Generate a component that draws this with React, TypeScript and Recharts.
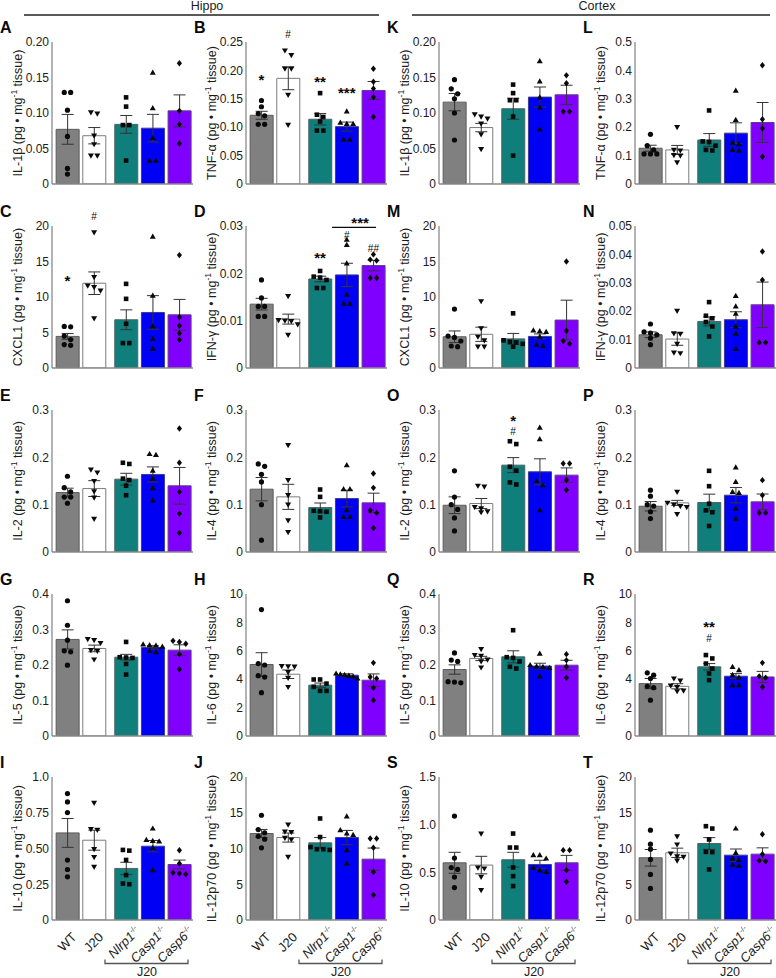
import React from "react";
import {
  ComposedChart,
  Bar,
  Cell,
  ErrorBar,
  Scatter,
  XAxis,
  YAxis,
  ReferenceDot,
  ReferenceLine,
} from "recharts";

const FONT = "'Liberation Sans', Arial, Helvetica, sans-serif";
const INK = "#0a0a0a";
const TEXT = "#1c1c1c";
const AXIS = "#8a8a8a";

const GROUPS = ["WT", "J20", "Nlrp1", "Casp1", "Casp6"];
const KNOCKOUT = [false, false, true, true, true];
const FILLS = ["#808080", "#ffffff", "#107e7a", "#0000f4", "#7f00ff"];
const EDGES = ["#5c5c5c", "#7c7c7c", "#4f6463", "#3c3c8c", "#5e3c88"];

// grid layout of the figure
const COL_X = [0, 194, 387, 583];
const ROW_TOP = [42, 226, 410, 594, 777];
const PLOT_H = [142, 142, 142, 142, 143];
const AXIS_W = 52;
const CHART_W = 195;
const POS = [0, 1, 2.2, 3.2, 4.2];
const X_DOMAIN = [-0.58, 4.71];
const ROW_PX = 5;
const DX = 0.24;

// ---- Hippo ----
const A_ticks = ["0", "0.05", "0.10", "0.15", "0.20"];
const A_mean = [0.077, 0.068, 0.084, 0.0786, 0.103];
const A_sem = [0.021, 0.0115, 0.0125, 0.0195, 0.0225];
const A_pts = [
  [0.129, 0.129, 0.104, 0.067, 0.022, 0.014],
  [0.099, 0.101, 0.068, 0.056, 0.04, 0.04],
  [0.122, 0.109, 0.083, 0.083, 0.033],
  [0.157, 0.107, 0.065, 0.033, 0.033],
  [0.17, 0.103, 0.084, 0.057],
];

const B_ticks = ["0", "0.05", "0.10", "0.15", "0.20", "0.25"];
const B_mean = [0.121, 0.186, 0.114, 0.101, 0.1647];
const B_sem = [0.007, 0.02, 0.01, 0.008, 0.0158];
const B_pts = [
  [0.147, 0.136, 0.124, 0.12, 0.105, 0.105],
  [0.235, 0.227, 0.203, 0.203, 0.157, 0.104],
  [0.16, 0.122, 0.118, 0.11, 0.094, 0.094],
  [0.128, 0.108, 0.106, 0.106, 0.078, 0.078],
  [0.203, 0.18, 0.168, 0.153, 0.118],
];
const B_marks: [number, number, string][] = [
  [0, 0.189, "*"],
  [1, 0.264, "#"],
  [2, 0.185, "**"],
  [3, 0.167, "***"],
];

const C_ticks = ["0", "5", "10", "15", "20"];
const C_mean = [4.45, 11.94, 6.79, 7.82, 7.49];
const C_sem = [0.4, 1.59, 1.4, 2.37, 2.17];
const C_pts = [
  [5.85, 5.8, 4.5, 4.0, 3.3, 3.2],
  [19.1, 12.8, 11.6, 11.4, 10.9, 7.0],
  [11.85, 9.74, 6.23, 3.51, 3.51],
  [18.5, 10.2, 5.9, 4.1, 2.7],
  [15.9, 7.17, 5.95, 4.9, 3.98],
];
const C_marks: [number, number, string][] = [
  [0, 12.7, "*"],
  [1, 21.3, "#"],
];

const D_ticks = ["0", "0.01", "0.02", "0.03"];
const D_mean = [0.01349, 0.01033, 0.0188, 0.01967, 0.02164];
const D_sem = [0.00123, 0.00105, 0.0006, 0.00246, 0.0011];
const D_pts = [
  [0.0186, 0.0148, 0.013, 0.013, 0.0109, 0.0109],
  [0.0152, 0.0101, 0.01, 0.0099, 0.0092, 0.007],
  [0.0205, 0.0193, 0.0191, 0.0186, 0.0169, 0.0169],
  [0.0271, 0.026, 0.0221, 0.0155, 0.0136, 0.0136],
  [0.024, 0.0229, 0.0227, 0.019, 0.019],
];
const D_marks: [number, number, string][] = [
  [2, 0.0239, "**"],
  [3, 0.0281, "#"],
  [4, 0.0253, "##"],
];
const D_lineGroups = [3, 4];
const D_lineValue = 0.0297;
const D_lineText = "***";
const D_lineTextValue = 0.0313;

const E_ticks = ["0", "0.1", "0.2", "0.3"];
const E_mean = [0.1256, 0.134, 0.1539, 0.1638, 0.1398];
const E_sem = [0.0092, 0.0167, 0.0124, 0.016, 0.0388];
const E_pts = [
  [0.16, 0.136, 0.127, 0.116, 0.116, 0.103],
  [0.174, 0.168, 0.15, 0.128, 0.115, 0.07],
  [0.1885, 0.186, 0.155, 0.152, 0.14, 0.12],
  [0.207, 0.205, 0.172, 0.155, 0.135, 0.109],
  [0.261, 0.1885, 0.127, 0.081, 0.04],
];

const F_ticks = ["0", "0.1", "0.2", "0.3"];
const F_mean = [0.1327, 0.1165, 0.0939, 0.1129, 0.1038];
const F_sem = [0.0247, 0.0265, 0.0096, 0.0177, 0.0205];
const F_pts = [
  [0.186, 0.181, 0.164, 0.148, 0.1, 0.025],
  [0.226, 0.152, 0.12, 0.1, 0.067, 0.042],
  [0.132, 0.1165, 0.087, 0.086, 0.085, 0.073],
  [0.1835, 0.1327, 0.1327, 0.0882, 0.074, 0.074],
  [0.166, 0.1355, 0.0882, 0.0826, 0.0508],
];

const G_ticks = ["0", "0.1", "0.2", "0.3", "0.4"];
const G_mean = [0.272, 0.2466, 0.222, 0.2494, 0.2419];
const G_sem = [0.0269, 0.0094, 0.008, 0.005, 0.015];
const G_pts = [
  [0.381, 0.312, 0.27, 0.24, 0.237, 0.1995],
  [0.273, 0.27, 0.262, 0.242, 0.24, 0.2155],
  [0.265, 0.222, 0.221, 0.22, 0.203, 0.173],
  [0.258, 0.256, 0.255, 0.252, 0.24, 0.236],
  [0.268, 0.265, 0.26, 0.23, 0.188],
];

const H_ticks = ["0", "2", "4", "6", "8", "10"];
const H_mean = [5.035, 4.35, 3.58, 4.28, 3.93];
const H_sem = [0.83, 0.3, 0.15, 0.1, 0.44];
const H_pts = [
  [8.9, 5.1, 5.0, 4.25, 4.15, 3.05],
  [4.92, 4.9, 4.88, 4.5, 4.1, 3.45],
  [3.98, 3.98, 3.69, 3.46, 3.18, 3.18],
  [4.4, 4.35, 4.3, 4.25, 4.2, 4.05],
  [5.15, 4.15, 4.05, 3.4, 2.52],
];

const I_ticks = ["0", "0.25", "0.50", "0.75", "1.0"];
const I_mean = [0.609, 0.558, 0.3605, 0.516, 0.388];
const I_sem = [0.101, 0.07, 0.043, 0.04, 0.031];
const I_pts = [
  [0.884, 0.826, 0.751, 0.419, 0.353, 0.302],
  [0.819, 0.635, 0.63, 0.495, 0.44, 0.372],
  [0.49, 0.485, 0.42, 0.314, 0.255, 0.25],
  [0.64, 0.56, 0.553, 0.55, 0.505, 0.349],
  [0.488, 0.395, 0.33, 0.325, 0.32],
];

const J_ticks = ["0", "5", "10", "15", "20"];
const J_mean = [12.09, 11.53, 10.79, 11.53, 8.51];
const J_sem = [0.56, 0.63, 0.75, 1.0, 1.55];
const J_pts = [
  [14.65, 12.65, 12.2, 11.7, 11.3, 10.1],
  [13.35, 12.35, 12.3, 11.5, 11.26, 8.84],
  [14.2, 11.6, 10.2, 9.9, 9.9, 9.8],
  [14.5, 12.56, 12.1, 11.9, 9.77, 7.9],
  [11.4, 11.4, 10.1, 6.7, 3.5],
];

// ---- Cortex ----
const K_ticks = ["0", "0.05", "0.10", "0.15", "0.20"];
const K_mean = [0.1153, 0.0795, 0.106, 0.1224, 0.1256];
const K_sem = [0.0122, 0.0059, 0.0148, 0.0142, 0.0135];
const K_pts = [
  [0.147, 0.134, 0.127, 0.12, 0.1, 0.062],
  [0.098, 0.095, 0.092, 0.085, 0.07, 0.049],
  [0.14, 0.128, 0.118, 0.118, 0.095, 0.04],
  [0.173, 0.1445, 0.122, 0.108, 0.077],
  [0.153, 0.142, 0.102, 0.102],
];

const L_ticks = ["0", "0.1", "0.2", "0.3", "0.4", "0.5"];
const L_mean = [0.126, 0.12, 0.155, 0.179, 0.2165];
const L_sem = [0.0105, 0.0158, 0.0225, 0.0365, 0.0705];
const L_pts = [
  [0.175, 0.135, 0.12, 0.106, 0.106, 0.106],
  [0.2, 0.12, 0.118, 0.102, 0.1, 0.076],
  [0.259, 0.15, 0.148, 0.135, 0.12, 0.118],
  [0.329, 0.226, 0.145, 0.14, 0.12, 0.118],
  [0.418, 0.228, 0.196, 0.096],
];

const M_ticks = ["0", "5", "10", "15", "20"];
const M_mean = [4.4, 4.75, 4.1, 4.45, 6.75];
const M_sem = [0.82, 1.0, 0.77, 0.35, 2.8];
const M_pts = [
  [8.3, 4.5, 4.3, 3.8, 3.1, 3.0],
  [9.4, 5.6, 4.4, 3.9, 3.0, 3.0],
  [7.7, 3.9, 3.7, 3.6, 3.4, 3.0],
  [5.3, 5.2, 5.1, 4.4, 3.3, 3.1],
  [15.0, 5.25, 3.8, 3.4],
];

const N_ticks = ["0", "0.01", "0.02", "0.03", "0.04", "0.05"];
const N_mean = [0.0117, 0.0102, 0.0164, 0.017, 0.02225];
const N_sem = [0.001, 0.0022, 0.0016, 0.0028, 0.008];
const N_pts = [
  [0.0155, 0.0127, 0.0123, 0.0117, 0.0105, 0.0082],
  [0.0201, 0.0122, 0.012, 0.0085, 0.0054, 0.0052],
  [0.0232, 0.0184, 0.0175, 0.0162, 0.0146, 0.0111],
  [0.0254, 0.0217, 0.0191, 0.0146, 0.0121, 0.0067],
  [0.041, 0.031, 0.009, 0.009],
];

const O_ticks = ["0", "0.1", "0.2", "0.3"];
const O_mean = [0.0988, 0.1024, 0.1835, 0.1694, 0.1624];
const O_sem = [0.0177, 0.0106, 0.0159, 0.0275, 0.0152];
const O_pts = [
  [0.1715, 0.116, 0.1, 0.09, 0.072, 0.0445],
  [0.14, 0.138, 0.095, 0.092, 0.086, 0.084],
  [0.234, 0.228, 0.18, 0.172, 0.147, 0.1426],
  [0.2626, 0.2386, 0.15, 0.141, 0.0882],
  [0.187, 0.187, 0.152, 0.131],
];
const O_marks: [number, number, string][] = [
  [2, 0.254, "#"],
  [2, 0.284, "*"],
];

const P_ticks = ["0", "0.1", "0.2", "0.3"];
const P_mean = [0.0967, 0.1038, 0.1045, 0.12, 0.1059];
const P_sem = [0.0099, 0.0053, 0.0177, 0.0162, 0.0166];
const P_pts = [
  [0.1306, 0.118, 0.1, 0.097, 0.085, 0.0706],
  [0.127, 0.104, 0.1, 0.097, 0.095, 0.08],
  [0.1715, 0.139, 0.102, 0.088, 0.084, 0.055],
  [0.1786, 0.148, 0.127, 0.125, 0.0918, 0.0706],
  [0.1518, 0.12, 0.0826, 0.0826],
];

const Q_ticks = ["0", "0.1", "0.2", "0.3", "0.4"];
const Q_mean = [0.1873, 0.2184, 0.223, 0.197, 0.1995];
const Q_sem = [0.0131, 0.006, 0.017, 0.008, 0.0138];
const Q_pts = [
  [0.234, 0.214, 0.21, 0.153, 0.152, 0.15],
  [0.2447, 0.228, 0.226, 0.215, 0.21, 0.193],
  [0.298, 0.222, 0.22, 0.21, 0.195, 0.19],
  [0.232, 0.2, 0.196, 0.195, 0.192, 0.168],
  [0.2306, 0.2136, 0.195, 0.1638],
];

const R_ticks = ["0", "2", "4", "6", "8", "10"];
const R_mean = [3.69, 3.5, 4.87, 4.21, 4.16];
const R_sem = [0.36, 0.18, 0.23, 0.18, 0.39];
const R_pts = [
  [4.45, 4.28, 4.05, 3.5, 3.4, 2.52],
  [4.05, 3.9, 3.55, 3.45, 3.2, 3.15],
  [5.7, 5.46, 5.1, 4.75, 4.4, 3.93],
  [4.87, 4.64, 4.3, 4.12, 3.58, 3.58],
  [5.15, 4.2, 4.1, 3.45],
];
const R_marks: [number, number, string][] = [
  [2, 7.9, "**"],
  [2, 6.9, "#"],
];

const S_ticks = ["0", "0.5", "1.0", "1.5"];
const S_mean = [0.6, 0.576, 0.632, 0.5825, 0.6];
const S_sem = [0.11, 0.092, 0.078, 0.044, 0.078];
const S_pts = [
  [1.09, 0.65, 0.55, 0.53, 0.45, 0.34],
  [0.907, 0.55, 0.54, 0.453, 0.314],
  [0.907, 0.76, 0.76, 0.551, 0.46, 0.356],
  [0.68, 0.68, 0.645, 0.55, 0.52, 0.505],
  [0.7325, 0.7325, 0.523, 0.401],
];

const T_ticks = ["0", "5", "10", "15", "20"];
const T_mean = [8.7, 9.4, 10.7, 9.07, 9.21];
const T_sem = [1.16, 0.65, 0.82, 0.86, 0.88];
const T_pts = [
  [12.56, 10.6, 9.9, 8.47, 6.37, 4.42],
  [11.7, 10.56, 9.3, 8.9, 8.84, 8.3],
  [12.79, 13.12, 11.26, 9.53, 9.5, 7.07],
  [12.8, 9.4, 8.6, 8.4, 7.7, 7.6],
  [12.0, 9.2, 8.3, 8.2],
];

type Mark = [number, number, string];
interface PanelDef {
  id: string;
  col: number;
  row: number;
  name: string;
  ticks: string[];
  mean: number[];
  sem: number[];
  pts: number[][];
  marks?: Mark[];
}

const PANELS: PanelDef[] = [
  { id: "A", col: 0, row: 0, name: "IL-1β", ticks: A_ticks, mean: A_mean, sem: A_sem, pts: A_pts },
  { id: "B", col: 1, row: 0, name: "TNF-α", ticks: B_ticks, mean: B_mean, sem: B_sem, pts: B_pts, marks: B_marks },
  { id: "C", col: 0, row: 1, name: "CXCL1", ticks: C_ticks, mean: C_mean, sem: C_sem, pts: C_pts, marks: C_marks },
  { id: "D", col: 1, row: 1, name: "IFN-γ", ticks: D_ticks, mean: D_mean, sem: D_sem, pts: D_pts, marks: D_marks },
  { id: "E", col: 0, row: 2, name: "IL-2", ticks: E_ticks, mean: E_mean, sem: E_sem, pts: E_pts },
  { id: "F", col: 1, row: 2, name: "IL-4", ticks: F_ticks, mean: F_mean, sem: F_sem, pts: F_pts },
  { id: "G", col: 0, row: 3, name: "IL-5", ticks: G_ticks, mean: G_mean, sem: G_sem, pts: G_pts },
  { id: "H", col: 1, row: 3, name: "IL-6", ticks: H_ticks, mean: H_mean, sem: H_sem, pts: H_pts },
  { id: "I", col: 0, row: 4, name: "IL-10", ticks: I_ticks, mean: I_mean, sem: I_sem, pts: I_pts },
  { id: "J", col: 1, row: 4, name: "IL-12p70", ticks: J_ticks, mean: J_mean, sem: J_sem, pts: J_pts },
  { id: "K", col: 2, row: 0, name: "IL-1β", ticks: K_ticks, mean: K_mean, sem: K_sem, pts: K_pts },
  { id: "L", col: 3, row: 0, name: "TNF-α", ticks: L_ticks, mean: L_mean, sem: L_sem, pts: L_pts },
  { id: "M", col: 2, row: 1, name: "CXCL1", ticks: M_ticks, mean: M_mean, sem: M_sem, pts: M_pts },
  { id: "N", col: 3, row: 1, name: "IFN-γ", ticks: N_ticks, mean: N_mean, sem: N_sem, pts: N_pts },
  { id: "O", col: 2, row: 2, name: "IL-2", ticks: O_ticks, mean: O_mean, sem: O_sem, pts: O_pts, marks: O_marks },
  { id: "P", col: 3, row: 2, name: "IL-4", ticks: P_ticks, mean: P_mean, sem: P_sem, pts: P_pts },
  { id: "Q", col: 2, row: 3, name: "IL-5", ticks: Q_ticks, mean: Q_mean, sem: Q_sem, pts: Q_pts },
  { id: "R", col: 3, row: 3, name: "IL-6", ticks: R_ticks, mean: R_mean, sem: R_sem, pts: R_pts, marks: R_marks },
  { id: "S", col: 2, row: 4, name: "IL-10", ticks: S_ticks, mean: S_mean, sem: S_sem, pts: S_pts },
  { id: "T", col: 3, row: 4, name: "IL-12p70", ticks: T_ticks, mean: T_mean, sem: T_sem, pts: T_pts },
];

// spread points that sit at about the same height side by side
function swarm(vals: number[], g: number, pxPerUnit: number) {
  const order = vals.map((_, i) => i).sort((a, b) => vals[b] - vals[a]);
  const rows: number[][] = [];
  order.forEach((k) => {
    const row = rows[rows.length - 1];
    if (row && (vals[row[0]] - vals[k]) * pxPerUnit < ROW_PX) row.push(k);
    else rows.push([k]);
  });
  return rows.flatMap((row) => {
    const step = Math.min(DX, 0.8 / Math.max(1, row.length - 1));
    return row.map((k, j) => ({
      x: POS[g] + (j - (row.length - 1) / 2) * step,
      v: vals[k],
      g,
    }));
  });
}

function Marker(props: any) {
  const { cx, cy, payload } = props;
  if (cx == null || cy == null) return null;
  const r = 2.6;
  switch (payload.g) {
    case 0:
      return <circle cx={cx} cy={cy} r={r} fill={INK} />;
    case 1:
      return (
        <polygon
          points={`${cx - r - 0.4},${cy - r + 0.5} ${cx + r + 0.4},${cy - r + 0.5} ${cx},${cy + r + 0.5}`}
          fill={INK}
        />
      );
    case 2:
      return <rect x={cx - r + 0.3} y={cy - r + 0.3} width={2 * r - 0.6} height={2 * r - 0.6} fill={INK} />;
    case 3:
      return (
        <polygon
          points={`${cx - r - 0.4},${cy + r - 0.5} ${cx + r + 0.4},${cy + r - 0.5} ${cx},${cy - r - 0.5}`}
          fill={INK}
        />
      );
    default:
      return (
        <polygon
          points={`${cx},${cy - r - 0.6} ${cx + r},${cy} ${cx},${cy + r + 0.6} ${cx - r},${cy}`}
          fill={INK}
        />
      );
  }
}

function markShape(t: string) {
  return (props: any) => {
    const { cx, cy } = props;
    const star = t.startsWith("*");
    const fs = star ? 15 : 10;
    return (
      <text
        x={cx}
        y={cy + (star ? 0.57 : 0.36) * fs}
        textAnchor="middle"
        fontSize={fs}
        fontWeight={star ? "bold" : "normal"}
        fontFamily={FONT}
        fill={INK}
      >
        {t}
      </text>
    );
  };
}

function GroupTick(props: any) {
  const { x, y, payload } = props;
  const i = POS.indexOf(payload.value);
  if (i < 0) return null;
  if (!KNOCKOUT[i]) {
    return (
      <text
        transform={`translate(${x + 10},${y + 18}) rotate(-45)`}
        textAnchor="end"
        fontSize={13}
        fontFamily={FONT}
        fill={TEXT}
      >
        {GROUPS[i]}
      </text>
    );
  }
  return (
    <text
      transform={`translate(${x + 14.5},${y + 12}) rotate(-45)`}
      textAnchor="end"
      fontSize={13}
      fontFamily={FONT}
      fill={TEXT}
    >
      <tspan fontStyle="italic">{GROUPS[i]}</tspan>
      <tspan dy={-5} fontSize={7.5}>
        -/-
      </tspan>
    </text>
  );
}

function Panel({ p }: { p: PanelDef }) {
  const last = p.row === 4;
  const nums = p.ticks.map(Number);
  const max = nums[nums.length - 1];
  const plotH = PLOT_H[p.row];
  const bars = p.mean.map((m, i) => ({ x: POS[i], mean: m, err: p.sem[i] }));
  const dots = p.pts.flatMap((vals, g) => swarm(vals, g, plotH / max));
  const xh = last ? 50 : 1;
  const bottom = last ? 0 : 10;

  return (
    <ComposedChart
      width={CHART_W}
      height={42 + plotH + xh + bottom}
      data={bars}
      margin={{ top: 42, right: 2, bottom, left: 0 }}
    >
      <XAxis
        dataKey="x"
        type="number"
        domain={X_DOMAIN}
        allowDataOverflow
        ticks={POS}
        interval={0}
        height={xh}
        axisLine={{ stroke: AXIS, strokeWidth: 1.3 }}
        tickLine={false}
        tickSize={0}
        tickMargin={0}
        tick={last ? <GroupTick /> : false}
      />
      <XAxis xAxisId="pts" dataKey="x" type="number" domain={X_DOMAIN} allowDataOverflow hide />
      <YAxis
        type="number"
        domain={[0, max]}
        allowDataOverflow
        ticks={nums}
        interval={0}
        width={AXIS_W}
        axisLine={{ stroke: AXIS, strokeWidth: 1.3 }}
        tickLine={false}
        tickSize={2}
        tickMargin={1}
        tick={{ fontSize: 12, fill: TEXT, fontFamily: FONT }}
        tickFormatter={(v: number) => p.ticks[nums.indexOf(v)] ?? String(v)}
      />
      <Bar dataKey="mean" barSize={23} isAnimationActive={false}>
        {bars.map((_, i) => (
          <Cell key={i} fill={FILLS[i]} stroke={EDGES[i]} strokeWidth={1} />
        ))}
        <ErrorBar dataKey="err" width={6} stroke="#333" strokeWidth={1} isAnimationActive={false} />
      </Bar>
      <Scatter xAxisId="pts" data={dots} dataKey="v" shape={Marker} isAnimationActive={false} />
      {(p.marks || []).map(([g, v, t], k) => (
        <ReferenceDot key={k} x={POS[g]} y={v} r={0} ifOverflow="visible" shape={markShape(t)} />
      ))}
      {p.id === "D" && (
        <ReferenceLine
          segment={[
            { x: POS[D_lineGroups[0]] - 0.55, y: D_lineValue },
            { x: POS[D_lineGroups[1]] + 0.1, y: D_lineValue },
          ]}
          stroke={INK}
          strokeWidth={1.3}
          ifOverflow="visible"
        />
      )}
      {p.id === "D" && (
        <ReferenceDot
          x={(POS[D_lineGroups[0]] + POS[D_lineGroups[1]]) / 2}
          y={D_lineTextValue}
          r={0}
          ifOverflow="visible"
          shape={markShape(D_lineText)}
        />
      )}
    </ComposedChart>
  );
}

function Overlay() {
  return (
    <svg width={776} height={978} style={{ position: "absolute", left: 0, top: 0 }}>
      <text x={207} y={9.5} textAnchor="middle" fontSize={12.5} fontFamily={FONT} fill={TEXT}>
        Hippo
      </text>
      <line x1={24} x2={379} y1={15} y2={15} stroke="#222" strokeWidth={1.3} />
      <text x={597} y={9.5} textAnchor="middle" fontSize={12.5} fontFamily={FONT} fill={TEXT}>
        Cortex
      </text>
      <line x1={412} x2={770} y1={15} y2={15} stroke="#222" strokeWidth={1.3} />
      {PANELS.map((p) => {
        const x0 = COL_X[p.col];
        const top = ROW_TOP[p.row];
        const cy = top + PLOT_H[p.row] / 2;
        return (
          <g key={p.id}>
            <text x={x0} y={top - 9} fontSize={16} fontWeight="bold" fontFamily={FONT} fill={INK}>
              {p.id}
            </text>
            <text
              transform={`translate(${x0 + 21.5},${cy}) rotate(-90)`}
              textAnchor="middle"
              fontSize={12.5}
              fontFamily={FONT}
              fill={TEXT}
            >
              {p.name} (pg • mg
              <tspan dy={-5} fontSize={8.5}>
                -1
              </tspan>
              <tspan dy={5}> tissue)</tspan>
            </text>
            {p.row === 4 && (
              <g>
                <path
                  d={`M${x0 + 105},959.5 V963.5 H${x0 + 188} V959.5`}
                  fill="none"
                  stroke="#555"
                  strokeWidth={1.3}
                />
                <text x={x0 + 147} y={976} textAnchor="middle" fontSize={12.5} fontFamily={FONT} fill={TEXT}>
                  J20
                </text>
              </g>
            )}
          </g>
        );
      })}
    </svg>
  );
}

export default function App() {
  return (
    <div
      style={{
        position: "absolute",
        left: 0,
        top: 0,
        width: 776,
        height: 978,
        overflow: "hidden",
        background: "#fff",
        fontFamily: FONT,
      }}
    >
      <Overlay />
      {PANELS.map((p) => (
        <div key={p.id} style={{ position: "absolute", left: COL_X[p.col], top: ROW_TOP[p.row] - 42 }}>
          <Panel p={p} />
        </div>
      ))}
    </div>
  );
}
